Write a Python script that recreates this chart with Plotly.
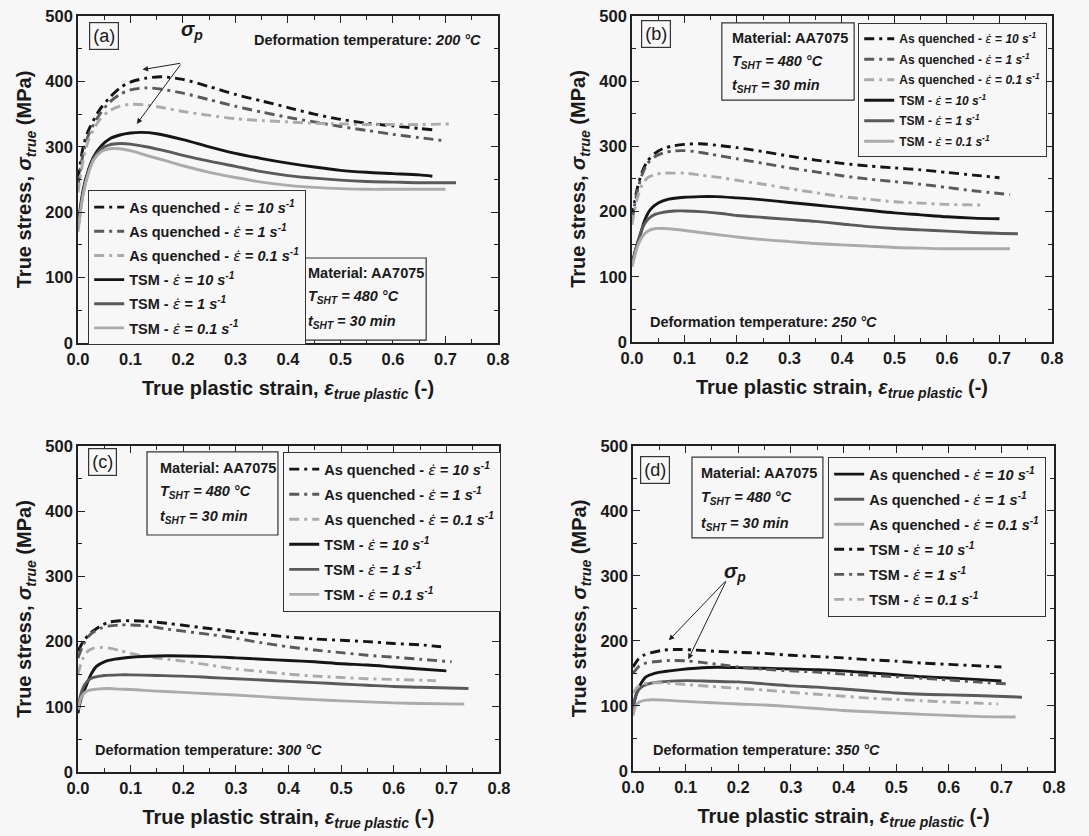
import plotly.graph_objects as go

FONT = "Liberation Sans, Arial, sans-serif"
BG = "#f7f7f7"

# ---------------- Panel (a): 200 °C ----------------
a_aq10_x = [0, 0.01, 0.02, 0.04, 0.06, 0.08, 0.1, 0.13, 0.16, 0.2, 0.25, 0.3, 0.35, 0.4, 0.45, 0.5, 0.55, 0.6, 0.65, 0.675]
a_aq10_y = [250, 300, 325, 355, 375, 390, 399, 405, 407, 403, 392, 380, 370, 360, 350, 342, 336, 332, 328, 326]
a_aq1_x = [0, 0.01, 0.02, 0.04, 0.06, 0.08, 0.1, 0.13, 0.16, 0.2, 0.25, 0.3, 0.35, 0.4, 0.45, 0.5, 0.55, 0.6, 0.65, 0.70]
a_aq1_y = [240, 290, 318, 348, 368, 380, 387, 390, 388, 382, 372, 362, 353, 345, 338, 331, 325, 319, 314, 309]
a_aq01_x = [0, 0.01, 0.02, 0.04, 0.06, 0.08, 0.1, 0.13, 0.16, 0.2, 0.25, 0.3, 0.35, 0.4, 0.45, 0.5, 0.55, 0.6, 0.65, 0.71]
a_aq01_y = [230, 280, 310, 340, 355, 362, 365, 364, 360, 354, 348, 343, 340, 338, 336, 335, 334, 334, 334, 335]
a_tsm10_x = [0, 0.01, 0.02, 0.03, 0.045, 0.06, 0.08, 0.1, 0.12, 0.15, 0.2, 0.25, 0.3, 0.35, 0.4, 0.45, 0.5, 0.55, 0.6, 0.65, 0.675]
a_tsm10_y = [180, 235, 265, 285, 302, 312, 318, 321, 322, 320, 311, 300, 290, 282, 275, 269, 264, 261, 259, 257, 255]
a_tsm1_x = [0, 0.01, 0.02, 0.03, 0.045, 0.06, 0.08, 0.1, 0.13, 0.17, 0.2, 0.25, 0.3, 0.35, 0.4, 0.45, 0.5, 0.55, 0.6, 0.65, 0.72]
a_tsm1_y = [175, 230, 262, 282, 297, 303, 305, 304, 300, 293, 287, 278, 270, 262, 256, 252, 249, 247, 246, 245, 245]
a_tsm01_x = [0, 0.01, 0.02, 0.03, 0.045, 0.06, 0.08, 0.1, 0.13, 0.17, 0.2, 0.25, 0.3, 0.35, 0.4, 0.45, 0.5, 0.55, 0.6, 0.65, 0.70]
a_tsm01_y = [170, 228, 260, 280, 293, 297, 297, 294, 287, 278, 271, 261, 253, 246, 241, 238, 236, 235, 235, 235, 235]

# ---------------- Panel (b): 250 °C ----------------
b_aq10_x = [0, 0.01, 0.02, 0.03, 0.045, 0.06, 0.08, 0.1, 0.13, 0.17, 0.2, 0.25, 0.3, 0.35, 0.4, 0.45, 0.5, 0.55, 0.6, 0.65, 0.70]
b_aq10_y = [190, 235, 262, 278, 290, 297, 301, 303, 304, 301, 298, 292, 285, 279, 274, 270, 267, 264, 260, 256, 252]
b_aq1_x = [0, 0.01, 0.02, 0.03, 0.045, 0.06, 0.08, 0.1, 0.12, 0.15, 0.2, 0.25, 0.3, 0.35, 0.4, 0.45, 0.5, 0.55, 0.6, 0.65, 0.72]
b_aq1_y = [185, 230, 258, 274, 285, 290, 293, 293.5, 292, 288, 281, 274, 267, 261, 255, 250, 246, 242, 237, 232, 226]
b_aq01_x = [0, 0.01, 0.02, 0.03, 0.045, 0.06, 0.08, 0.1, 0.13, 0.17, 0.2, 0.25, 0.3, 0.35, 0.4, 0.45, 0.5, 0.55, 0.6, 0.67]
b_aq01_y = [180, 220, 242, 252, 257, 259, 259, 259, 256, 252, 248, 242, 235, 229, 223, 219, 215, 213, 211, 210]
b_tsm10_x = [0, 0.01, 0.015, 0.025, 0.035, 0.05, 0.07, 0.1, 0.13, 0.16, 0.2, 0.25, 0.3, 0.35, 0.4, 0.45, 0.5, 0.55, 0.6, 0.65, 0.70]
b_tsm10_y = [120, 150, 162, 188, 203, 213, 219, 222, 223, 223, 221, 218, 214, 210, 206, 202, 198, 195, 192, 190, 189]
b_tsm1_x = [0, 0.01, 0.02, 0.03, 0.045, 0.06, 0.08, 0.1, 0.13, 0.17, 0.2, 0.25, 0.3, 0.35, 0.4, 0.45, 0.5, 0.55, 0.6, 0.65, 0.735]
b_tsm1_y = [118, 150, 175, 188, 196, 199, 201, 201, 200, 197, 194, 191, 188, 185, 181, 177, 174, 172, 170, 168, 166]
b_tsm01_x = [0, 0.01, 0.02, 0.03, 0.045, 0.06, 0.08, 0.1, 0.13, 0.17, 0.2, 0.25, 0.3, 0.35, 0.4, 0.45, 0.5, 0.55, 0.6, 0.65, 0.72]
b_tsm01_y = [115, 145, 162, 170, 174, 174, 173, 171, 168, 164, 161, 157, 154, 151, 149, 147, 145, 144, 143, 143, 143]

# ---------------- Panel (c): 300 °C ----------------
c_aq10_x = [0, 0.01, 0.02, 0.03, 0.045, 0.06, 0.08, 0.1, 0.13, 0.17, 0.2, 0.25, 0.3, 0.35, 0.4, 0.45, 0.5, 0.55, 0.6, 0.65, 0.69]
c_aq10_y = [185, 200, 210, 217, 225, 230, 232, 232, 231, 228, 225, 220, 215, 211, 207, 204, 202, 200, 197, 195, 192]
c_aq1_x = [0, 0.01, 0.02, 0.03, 0.045, 0.06, 0.08, 0.1, 0.13, 0.17, 0.2, 0.25, 0.3, 0.35, 0.4, 0.45, 0.5, 0.55, 0.6, 0.65, 0.71]
c_aq1_y = [175, 195, 208, 215, 221, 224, 225.5, 225.5, 224, 219, 216, 211, 205, 198, 192, 187, 183, 179, 176, 173, 169]
c_aq01_x = [0, 0.01, 0.02, 0.03, 0.045, 0.06, 0.08, 0.1, 0.13, 0.17, 0.2, 0.25, 0.3, 0.35, 0.4, 0.45, 0.5, 0.55, 0.6, 0.68]
c_aq01_y = [150, 175, 186, 190, 191, 190, 186, 182, 177, 173, 170, 164, 158, 154, 150, 147, 145, 143, 142, 140]
c_tsm10_x = [0, 0.005, 0.015, 0.025, 0.035, 0.05, 0.07, 0.1, 0.15, 0.2, 0.25, 0.3, 0.35, 0.4, 0.45, 0.5, 0.55, 0.6, 0.65, 0.70]
c_tsm10_y = [90, 110, 131, 150, 162, 169, 173, 176, 178, 178, 177, 175, 173, 171, 169, 166, 164, 161, 158, 155]
c_tsm1_x = [0, 0.005, 0.012, 0.02, 0.03, 0.05, 0.08, 0.1, 0.15, 0.2, 0.25, 0.3, 0.35, 0.4, 0.45, 0.5, 0.55, 0.6, 0.65, 0.742]
c_tsm1_y = [95, 118, 133, 141, 145, 148, 149, 149, 148, 147, 145, 143, 141, 139, 137, 135, 133, 131, 130, 128]
c_tsm01_x = [0, 0.005, 0.012, 0.02, 0.035, 0.055, 0.08, 0.1, 0.15, 0.2, 0.25, 0.3, 0.35, 0.4, 0.45, 0.5, 0.55, 0.6, 0.65, 0.734]
c_tsm01_y = [95, 112, 121, 125, 127, 128, 127, 126.5, 124, 122, 120, 118, 115.5, 113, 111, 109, 107.5, 106, 105, 104]

# ---------------- Panel (d): 350 °C ----------------
d_aq10_x = [0, 0.005, 0.012, 0.025, 0.04, 0.06, 0.09, 0.12, 0.16, 0.2, 0.25, 0.3, 0.35, 0.4, 0.45, 0.5, 0.55, 0.6, 0.65, 0.70]
d_aq10_y = [95, 115, 130, 145, 150, 153, 156, 158, 159.5, 159, 158, 157, 156, 154, 151, 148, 145, 143, 141, 138.5]
d_aq1_x = [0, 0.005, 0.012, 0.025, 0.04, 0.06, 0.1, 0.15, 0.2, 0.25, 0.3, 0.35, 0.4, 0.45, 0.5, 0.55, 0.6, 0.65, 0.739]
d_aq1_y = [95, 115, 126, 133, 136, 137.5, 139, 138, 137, 134, 131, 129, 126, 123, 120, 118, 117, 116, 113.5]
d_aq01_x = [0, 0.005, 0.012, 0.025, 0.036, 0.06, 0.1, 0.15, 0.2, 0.25, 0.3, 0.35, 0.4, 0.45, 0.5, 0.55, 0.6, 0.65, 0.727]
d_aq01_y = [85, 100, 106, 109, 109.5, 109, 107, 105, 103, 101.5, 99, 96, 93, 91, 89, 87, 85.5, 84, 83]
d_tsm10_x = [0, 0.01, 0.02, 0.035, 0.06, 0.09, 0.12, 0.16, 0.2, 0.25, 0.3, 0.35, 0.4, 0.45, 0.5, 0.55, 0.6, 0.65, 0.70]
d_tsm10_y = [160, 172, 178, 182, 186, 187, 186, 184, 182.5, 181, 178, 176, 174, 171, 169, 166, 164, 162, 160]
d_tsm1_x = [0, 0.01, 0.02, 0.04, 0.07, 0.1, 0.13, 0.17, 0.2, 0.25, 0.3, 0.35, 0.4, 0.45, 0.5, 0.55, 0.6, 0.65, 0.71]
d_tsm1_y = [150, 160, 165, 168, 170, 169.5, 167, 163, 160, 156.5, 154, 152, 149, 147, 145, 142.5, 140, 137, 134]
d_tsm01_x = [0, 0.01, 0.02, 0.036, 0.06, 0.1, 0.15, 0.2, 0.25, 0.3, 0.35, 0.4, 0.45, 0.5, 0.55, 0.6, 0.65, 0.694]
d_tsm01_y = [120, 130, 134, 135.5, 135.5, 133, 130, 127, 124.5, 121, 118, 115, 112, 110, 108, 106, 104.5, 103]

rates = ["10", "1", "0.1"]
temps = ["200", "250", "300", "350"]
panel_letters = ["(a)", "(b)", "(c)", "(d)"]
x_ticks = [0, 0.1, 0.2, 0.3, 0.4, 0.5, 0.6, 0.7, 0.8]
y_ticks = [0, 100, 200, 300, 400, 500]

series = [
    [(a_aq10_x, a_aq10_y), (a_aq1_x, a_aq1_y), (a_aq01_x, a_aq01_y),
     (a_tsm10_x, a_tsm10_y), (a_tsm1_x, a_tsm1_y), (a_tsm01_x, a_tsm01_y)],
    [(b_aq10_x, b_aq10_y), (b_aq1_x, b_aq1_y), (b_aq01_x, b_aq01_y),
     (b_tsm10_x, b_tsm10_y), (b_tsm1_x, b_tsm1_y), (b_tsm01_x, b_tsm01_y)],
    [(c_aq10_x, c_aq10_y), (c_aq1_x, c_aq1_y), (c_aq01_x, c_aq01_y),
     (c_tsm10_x, c_tsm10_y), (c_tsm1_x, c_tsm1_y), (c_tsm01_x, c_tsm01_y)],
    [(d_aq10_x, d_aq10_y), (d_aq1_x, d_aq1_y), (d_aq01_x, d_aq01_y),
     (d_tsm10_x, d_tsm10_y), (d_tsm1_x, d_tsm1_y), (d_tsm01_x, d_tsm01_y)],
]

COLORS = ["#151515", "#5a5a5a", "#ababab"]
DASHDOT = "10px,5px,3px,5px"
EPS = "<span style=\"font-family:'DejaVu Sans';font-weight:normal;font-style:italic\">\u03b5\u0307</span>"

# layout geometry (paper fractions)
domains = [
    ([0.0716, 0.4573], [0.5897, 0.9809]),
    ([0.5803, 0.9660], [0.5909, 0.9809]),
    ([0.0716, 0.4582], [0.0766, 0.4665]),
    ([0.5813, 0.9679], [0.0778, 0.4665]),
]
legend_pos = [(0.0808, 0.7727, 14.5, 2.3), (0.7879, 0.9725, 12, 1.5),
              (0.2599, 0.4593, 14.5, 3.2), (0.7603, 0.4533, 14.5, 3.2)]
mat_box = [  # x0,x1,y0,y1 in domain, text left x, line y's
    (0.531, 0.829, 0.009, 0.26, 0.543, [0.214, 0.141, 0.064]),
    (0.214, 0.529, 0.742, 0.979, 0.233, [0.932, 0.859, 0.785]),
    (0.164, 0.475, 0.727, 0.982, 0.190, [0.933, 0.859, 0.783]),
    (0.140, 0.451, 0.717, 0.966, 0.157, [0.917, 0.840, 0.760]),
]
letter_pos = [(0.061, 0.939), (0.057, 0.945), (0.059, 0.951), (0.053, 0.926)]
deform_pos = [(0.964, 0.927, "right"), (0.038, 0.061, "left"),
              (0.036, 0.067, "left"), (0.043, 0.065, "left")]

fig = go.Figure()

for p in range(4):
    xa = "x" if p == 0 else f"x{p+1}"
    ya = "y" if p == 0 else f"y{p+1}"
    leg = "legend" if p == 0 else f"legend{p+1}"
    for j, (xs, ys) in enumerate(series[p]):
        is_aq = j < 3
        rate = rates[j % 3]
        lab = ("As quenched - " if is_aq else "TSM - ") + f"{EPS} = <i>{rate} s<sup>-1</sup></i>"
        dashed = is_aq if p < 3 else (not is_aq)
        fig.add_trace(go.Scatter(
            x=xs, y=ys, mode="lines", name=lab, xaxis=xa, yaxis=ya,
            legend=leg, legendgroup=f"p{p}s{j}",
            line=dict(color=COLORS[j % 3], width=2.9,
                      dash=DASHDOT if dashed else "solid",
                      shape="spline", smoothing=0.8),
        ))

layout = dict(
    width=1089, height=836,
    margin=dict(l=0, r=0, t=0, b=0),
    paper_bgcolor=BG, plot_bgcolor=BG,
    font=dict(family=FONT, color="#1a1a1a"),
    showlegend=True,
)

for p in range(4):
    sx = "" if p == 0 else str(p + 1)
    xd, yd = domains[p]
    axcommon = dict(
        showline=True, linecolor="#222", linewidth=1.6, mirror="allticks",
        ticks="inside", ticklen=7, tickwidth=1.4, tickcolor="#222",
        showgrid=False, zeroline=False, automargin=False,
        tickfont=dict(family=FONT, size=16.5, weight="bold", color="#1a1a1a"),
    )
    layout["xaxis" + sx] = dict(
        axcommon, domain=xd, anchor="y" + sx, range=[0, 0.8],
        tickvals=x_ticks, tickformat=".1f",
        minor=dict(ticks="inside", ticklen=4, tickwidth=1.2, tickcolor="#222", dtick=0.05),
        title=dict(text="True plastic strain, <i>\u03b5<sub>true plastic</sub></i> (-)",
                   font=dict(family=FONT, size=20, weight="bold", color="#1a1a1a"),
                   standoff=14),
    )
    layout["yaxis" + sx] = dict(
        axcommon, domain=yd, anchor="x" + sx, range=[0, 500],
        tickvals=y_ticks,
        minor=dict(ticks="inside", ticklen=4, tickwidth=1.2, tickcolor="#222", dtick=50),
        title=dict(text="True stress, <i>\u03c3<sub>true</sub></i> (MPa)",
                   font=dict(family=FONT, size=20, weight="bold", color="#1a1a1a"),
                   standoff=8),
    )
    lx, ly, lfs, gap = legend_pos[p]
    layout["legend" + sx] = dict(
        x=lx, y=ly, xanchor="left", yanchor="top", xref="paper", yref="paper",
        bgcolor=BG, bordercolor="#333", borderwidth=1.2,
        font=dict(family=FONT, size=lfs, weight="bold", color="#1a1a1a"),
        tracegroupgap=gap, itemwidth=30,
    )

shapes = []
annotations = []
for p in range(4):
    sx = "" if p == 0 else str(p + 1)
    xr = "x" + sx + " domain"
    yr = "y" + sx + " domain"
    x0, x1, y0, y1, tx, lys = mat_box[p]
    shapes.append(dict(type="rect", xref=xr, yref=yr, x0=x0, x1=x1, y0=y0, y1=y1,
                       line=dict(color="#333", width=1.2), fillcolor=BG, layer="above"))
    lines = ["Material: AA7075", "<i>T<sub>SHT</sub> = 480 \u00b0C</i>",
             "<i>t<sub>SHT</sub> = 30 min</i>"]
    for t, yy in zip(lines, lys):
        annotations.append(dict(text=t, xref=xr, yref=yr, x=tx, y=yy, xanchor="left",
                                yanchor="middle", showarrow=False,
                                font=dict(family=FONT, size=14.5, weight="bold", color="#1a1a1a")))
    lxp, lyp = letter_pos[p]
    annotations.append(dict(text=panel_letters[p], xref=xr, yref=yr, x=lxp, y=lyp,
                            xanchor="center", yanchor="middle", showarrow=False,
                            bordercolor="#333", borderwidth=1.2, borderpad=3, bgcolor=BG,
                            font=dict(family=FONT, size=18, color="#1a1a1a")))
    dx, dy, anc = deform_pos[p]
    annotations.append(dict(text=f"Deformation temperature: <i>{temps[p]} \u00b0C</i>",
                            xref=xr, yref=yr, x=dx, y=dy, xanchor=anc, yanchor="middle",
                            showarrow=False,
                            font=dict(family=FONT, size=14.5, weight="bold", color="#1a1a1a")))

# sigma_p annotations (panel a and d)
sig_font = dict(family=FONT, size=20, weight="bold", color="#1a1a1a")
annotations.append(dict(text="<i>\u03c3<sub>p</sub></i>", xref="x", yref="y", x=0.217, y=478,
                        showarrow=False, font=sig_font))
for hx, hy in [(0.123, 418), (0.112, 335)]:
    annotations.append(dict(text="", xref="x", yref="y", x=hx, y=hy, axref="x", ayref="y",
                            ax=0.1975, ay=428, showarrow=True, arrowhead=2, arrowsize=1.1,
                            arrowwidth=1, arrowcolor="#222"))
annotations.append(dict(text="<i>\u03c3<sub>p</sub></i>", xref="x4", yref="y4", x=0.194, y=306,
                        showarrow=False, font=sig_font))
for hx, hy in [(0.068, 201), (0.105, 172)]:
    annotations.append(dict(text="", xref="x4", yref="y4", x=hx, y=hy, axref="x4", ayref="y4",
                            ax=0.178, ay=294, showarrow=True, arrowhead=2, arrowsize=1.1,
                            arrowwidth=1, arrowcolor="#222"))

layout["shapes"] = shapes
layout["annotations"] = annotations
fig.update_layout(**layout)
fig.write_html("out.html")
